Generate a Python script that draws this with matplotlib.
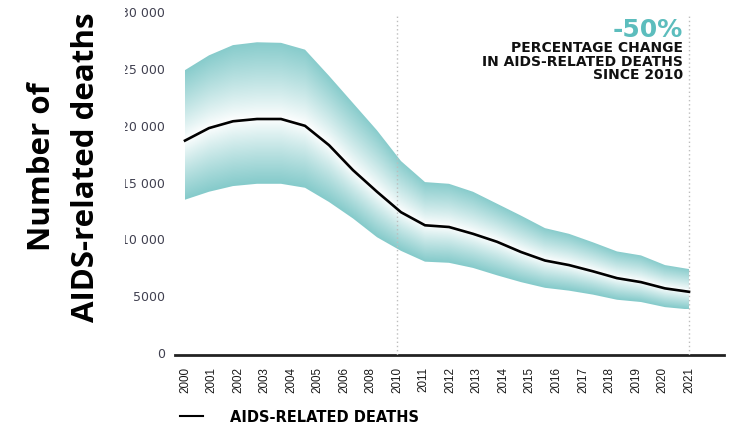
import numpy as np
import matplotlib
matplotlib.use("Agg")
import matplotlib.pyplot as plt
from matplotlib.lines import Line2D
from matplotlib.colors import to_rgb

# ---------------- data ----------------
years = np.arange(2000, 2022)
deaths = [18600, 19700, 20300, 20500, 20500, 19900, 18200, 16000, 14100, 12300,
          11150, 11000, 10400, 9700, 8800, 8050, 7650, 7100, 6500, 6150, 5600, 5300]
upper = [24800, 26100, 27000, 27250, 27200, 26600, 24300, 21900, 19500, 16800,
         14950, 14800, 14100, 13050, 12000, 10900, 10400, 9650, 8850, 8500, 7650, 7300]
lower = [13400, 14100, 14600, 14800, 14800, 14450, 13200, 11750, 10100, 8900,
         7950, 7850, 7400, 6750, 6150, 5650, 5400, 5050, 4600, 4400, 3950, 3750]

xtick_labels = ['2000', '2001', '2002', '2003', '2004', '2005', '2006', '2008',
                '2010', '2011', '2012', '2013', '2014', '2015', '2016', '2017',
                '2018', '2019', '2020', '2021']
ytick_values = [0, 5000, 10000, 15000, 20000, 25000, 30000]
ytick_labels = ['0', '5000', '10 000', '15 000', '20 000', '25 000', '30 000']

ylabel_text = "Number of\nAIDS-related deaths"
big_note = "-50%"
note_lines = ["PERCENTAGE CHANGE", "IN AIDS-RELATED DEATHS", "SINCE 2010"]
legend_label = "AIDS-RELATED DEATHS"

# ---------------- style ----------------
TEAL = '#86cbcb'
NOTE_TEAL = '#5cbdbd'
W, H = 734, 427

fig = plt.figure(figsize=(W / 100, H / 100), dpi=100)
ax = fig.add_axes([175 / W, (H - 356) / H, (724 - 175) / W, (356 - 12) / H])
ax.set_xlim(2000 - 10 / 24, 2021 + 35 / 24)
ax.set_ylim(-260, 30000)

# ---------------- gradient band ----------------
deaths_a = np.asarray(deaths, float)
upper_a = np.asarray(upper, float)
lower_a = np.asarray(lower, float)
ymin_b, ymax_b = lower_a.min(), upper_a.max()
nx, ny = 700, 500
gx = np.linspace(years[0], years[-1], nx)
gy = np.linspace(ymin_b, ymax_b, ny)
c = np.interp(gx, years, deaths_a)[None, :]
u = np.interp(gx, years, upper_a)[None, :]
l = np.interp(gx, years, lower_a)[None, :]
Y = gy[:, None]
t = np.where(Y >= c, (Y - c) / (u - c), (c - Y) / (c - l))
t = np.clip(t, 0, 1) ** 0.9
teal = np.array(to_rgb(TEAL))
img = np.ones((ny, nx, 4))
img[..., :3] = 1 - (1 - teal)[None, None, :] * t[..., None]

poly = ax.fill_between(years, lower_a, upper_a, facecolor='none', edgecolor='none', lw=0)
im = ax.imshow(img, origin='lower', extent=[years[0], years[-1], ymin_b, ymax_b],
               aspect='auto', interpolation='bilinear', zorder=1)
im.set_clip_path(poly.get_paths()[0], transform=ax.transData)

# ---------------- main line ----------------
ax.plot(years, deaths_a, color='black', lw=1.9, zorder=4, solid_joinstyle='round')

# ---------------- axes styling ----------------
xt = np.linspace(2000, 2021, len(xtick_labels))
ax.set_xticks(xt)
ax.set_xticklabels(xtick_labels, rotation=90, fontsize=8.4, family='Liberation Sans', color='#1a1a1a')
ax.set_yticks(ytick_values)
ax.set_yticklabels(ytick_labels, fontsize=9, color='#404050')
ax.tick_params(axis='x', length=0, pad=8)
ax.tick_params(axis='y', length=0, pad=7)
for s in ['left', 'right', 'top']:
    ax.spines[s].set_visible(False)
ax.spines['bottom'].set_linewidth(2)
ax.spines['bottom'].set_color('#222222')

# dotted reference lines at 2010 and 2021 labels
for idx in (xtick_labels.index('2010'), xtick_labels.index('2021')):
    ax.axvline(xt[idx], ymin=0, ymax=0.99, color='#bdbdbd', lw=1,
               ls=(0, (1, 2)), zorder=3)

# ---------------- texts ----------------
fig.text(64 / W, 1 - 167 / H, ylabel_text, rotation=90, ha='center', va='center',
         fontsize=22.5, fontweight='bold', family='Open Sans', linespacing=1.6,
         color='black',
         bbox=dict(boxstyle='square,pad=0.78', fc='white', ec='none'))

fig.text(683 / W, 1 - 37.3 / H, big_note, ha='right', va='baseline', fontsize=18,
         fontweight='bold', color=NOTE_TEAL)
for i, line in enumerate(note_lines):
    base = [51.7, 65.7, 79.3][i]
    fig.text(683 / W, 1 - base / H, line, ha='right', va='baseline', fontsize=10,
             fontweight='bold', color='#111111')

handles = [Line2D([], [], color='black', lw=1.5)]
fig.legend(handles, [legend_label], loc='center left',
           bbox_to_anchor=(180 / W, 9 / H), frameon=False,
           prop={'weight': 'bold', 'size': 10.5},
           handlelength=1.6, handletextpad=1.85, borderpad=0, borderaxespad=0)

fig.savefig('out.png', dpi=100)
